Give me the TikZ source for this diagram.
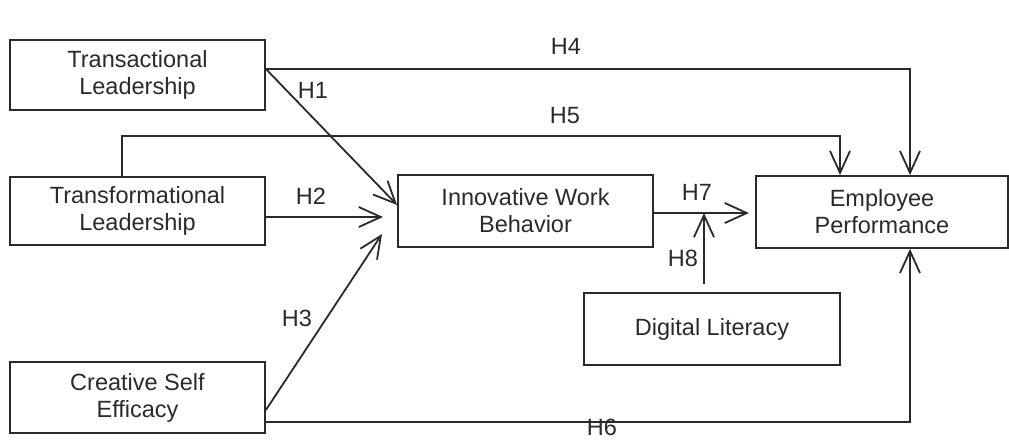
\documentclass[tikz,border=0pt]{standalone}
\usepackage{fontspec}
\setmainfont{Liberation Sans}
\usetikzlibrary{arrows.meta}
\definecolor{ink}{HTML}{2A2A2A}
\begin{document}
\begin{tikzpicture}[x=1pt,y=-1pt,
  every node/.style={font=\fontsize{23.5}{27}\selectfont, text=ink},
  box/.style={draw=ink, line width=1.8pt, rectangle, inner sep=0pt, align=center, minimum width=255pt, minimum height=70pt},
  conn/.style={draw=ink, line width=1.8pt},
  arr/.style={conn, -{Straight Barb[length=22pt,width=20pt,line width=1.8pt]}},
  lab/.style={inner sep=0pt}]
\useasboundingbox (0,0) rectangle (1009,445);
\node[box] (trans) at (137.5,75) {Transactional\\Leadership};
\node[box, minimum height=68pt] (transf) at (137.5,211) {Transformational\\Leadership};
\node[box, minimum height=71pt] (creat) at (137.5,397.5) {Creative Self\\Efficacy};
\node[box, minimum height=72pt] (innov) at (525.5,211) {Innovative Work\\Behavior};
\node[box, minimum width=252pt, minimum height=72pt] (emp) at (882,212) {Employee\\Performance};
\node[box, minimum width=256pt, minimum height=72pt] (dig) at (712,329) {Digital Literacy};
\coordinate (h5a) at (122,136);
\coordinate (h2e) at (383,217);
\coordinate (h3e) at (382,234);
\coordinate (h7e) at (749,213);
\coordinate (h8s) at (704,284);
\coordinate (h8e) at (704,213);
% H4
\draw[arr] ([yshift=6pt]trans.east) -| ([xshift=28pt]emp.north);
% H5
\draw[arr] (transf.north -| h5a) -- (h5a) -| ([xshift=-42pt]emp.north);
% H1
\draw[arr] ([yshift=6pt]trans.east) -- ([yshift=6pt]innov.west);
% H2
\draw[arr] (transf.east |- h2e) -- (h2e);
% H3
\draw[arr] ([yshift=-12.5pt]creat.east) -- (h3e);
% H6
\draw[arr] ([yshift=-24.5pt]creat.east) -| ([xshift=28pt]emp.south);
% H7
\draw[arr] (innov.east |- h7e) -- (h7e);
% H8
\draw[arr] (h8s) -- (h8e);
\node[lab] (l1) at (313,90) {H1};
\node[lab] (l2) at (311,196) {H2};
\node[lab] (l3) at (297,318) {H3};
\node[lab] (l4) at (566,46) {H4};
\node[lab] (l5) at (565,116) {H5};
\node[lab] (l6) at (602,427) {H6};
\node[lab] (l7) at (697,192) {H7};
\node[lab] (l8) at (683,258) {H8};
\end{tikzpicture}
\end{document}
